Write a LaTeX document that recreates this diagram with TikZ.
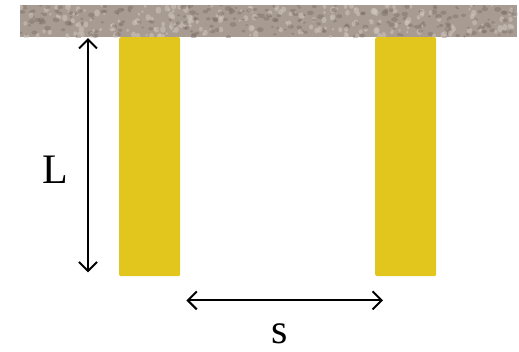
\documentclass[tikz,border=0pt]{standalone}
\usepackage{fontspec}
\setmainfont{Liberation Serif}
\usetikzlibrary{arrows.meta,positioning,calc}
\definecolor{pileyellow}{RGB}{226,198,30}
\definecolor{soilbase}{RGB}{168,156,146}
\definecolor{soildark}{RGB}{122,110,100}
\definecolor{soillight}{RGB}{208,199,191}

\begin{document}
\begin{tikzpicture}[x=1pt,y=-1pt,
    pile/.style={fill=pileyellow,rounded corners=1.5pt,inner sep=0pt,minimum width=61pt,minimum height=239pt,anchor=north west},
    dim/.style={{Straight Barb[length=9pt,width=18pt]}-{Straight Barb[length=9pt,width=18pt]},line width=2pt},
    lbl/.style={font=\fontsize{42}{42}\selectfont,inner sep=0pt,anchor=base}]
  \useasboundingbox (0,0) rectangle (519,351);
  % soil strip with a rough grain
  \node[fill=soilbase,inner sep=0pt,minimum width=497pt,minimum height=32pt,anchor=north west] (soil) at (20,5) {};
  \begin{scope}
    \clip (soil.north west) rectangle (soil.south east);
    \pgfmathsetseed{11}
    \foreach \i in {1,...,450}{
      \pgfmathsetmacro\px{20+497*rnd}
      \pgfmathsetmacro\py{5+32*rnd}
      \pgfmathsetmacro\rr{1.4+2.2*rnd}
      \pgfmathsetmacro\sh{rnd}
      \ifdim\sh pt<0.5pt
        \fill[soildark,opacity=0.45] (\px,\py) ellipse ({\rr} and {0.7*\rr});
      \else
        \fill[soillight,opacity=0.55] (\px,\py) ellipse ({0.8*\rr} and {\rr});
      \fi
    }
  \end{scope}
  % piles
  \node[pile] (leftpile) at (119,37) {};
  \node[pile] (rightpile) at (375,37) {};
  % dimension L
  \coordinate (ltop) at ($(leftpile.north west)+(-31,1)$);
  \coordinate (lbot) at ($(leftpile.south west)+(-31,-4)$);
  \draw[dim] (ltop) -- (lbot);
  \node[lbl] (Llab) at (55,183) {L};
  % dimension s
  \coordinate (sleft) at ($(leftpile.south east)+(6,24)$);
  \coordinate (sright) at ($(rightpile.south west)+(8,24)$);
  \draw[dim] (sleft) -- (sright);
  \node[lbl] (slab) at (280,343) {s};
\end{tikzpicture}
\end{document}
